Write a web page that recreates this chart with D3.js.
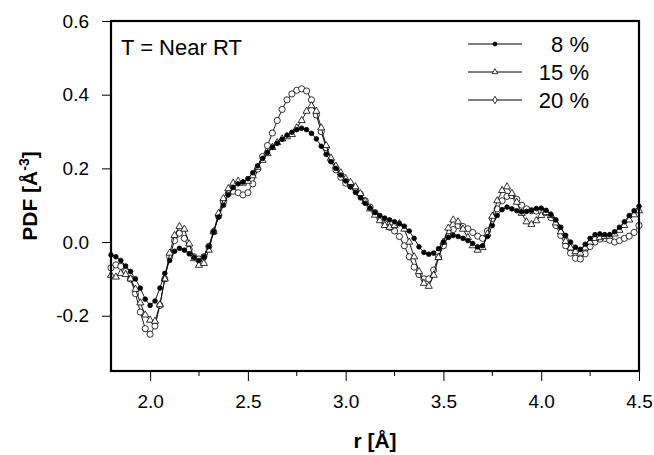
<!DOCTYPE html>
<html>
<head>
<meta charset="utf-8">
<script src="https://cdn.jsdelivr.net/npm/d3@7"></script>
<style>
  body { margin: 0; background: #fff; }
  text { font-family: "Liberation Sans", Arial, sans-serif; fill: #000; }
</style>
</head>
<body>
<div id="container"></div>
<script>
const width = 654;
const height = 455;

// r grid of the measurement (Å)
const rStart = 1.8;
const rStep = 0.025;

// PDF values, one per r step
const pct8 = [
  -0.035, -0.04, -0.05, -0.065,
  -0.08, -0.1, -0.125, -0.155,
  -0.172, -0.16, -0.125, -0.085,
  -0.05, -0.025, -0.017, -0.022,
  -0.032, -0.042, -0.05, -0.04,
  -0.012, 0.028, 0.068, 0.1,
  0.128, 0.148, 0.158, 0.163,
  0.172, 0.188, 0.207, 0.227,
  0.243, 0.257, 0.268, 0.279,
  0.29, 0.298, 0.305, 0.309,
  0.305, 0.295, 0.28, 0.26,
  0.238, 0.218, 0.2, 0.182,
  0.166, 0.15, 0.135, 0.12,
  0.105, 0.092, 0.08, 0.072,
  0.065, 0.06, 0.055, 0.05,
  0.043, 0.03, 0.01, -0.013,
  -0.028, -0.033, -0.03, -0.018,
  0.0, 0.013, 0.018, 0.015,
  0.01, 0.004, -0.004, -0.013,
  -0.01, 0.015, 0.045, 0.072,
  0.088, 0.095, 0.09, 0.085,
  0.082, 0.083, 0.086, 0.091,
  0.092, 0.086, 0.075, 0.06,
  0.04, 0.018, 0.0, -0.014,
  -0.02, -0.006, 0.01, 0.02,
  0.022, 0.02, 0.02, 0.028,
  0.04, 0.055, 0.072, 0.085,
  0.097
];

const pct15 = [
  -0.09, -0.095, -0.085, -0.088,
  -0.1, -0.128, -0.165, -0.198,
  -0.212, -0.215, -0.17, -0.1,
  -0.03, 0.018, 0.042, 0.035,
  -0.005, -0.045, -0.063, -0.058,
  -0.022, 0.028, 0.078, 0.118,
  0.145, 0.16, 0.165, 0.16,
  0.165, 0.18, 0.203, 0.222,
  0.24, 0.257, 0.27, 0.28,
  0.286, 0.292, 0.31, 0.33,
  0.355, 0.37, 0.355, 0.31,
  0.262, 0.228, 0.206, 0.188,
  0.172, 0.162, 0.15, 0.132,
  0.11, 0.09, 0.073, 0.058,
  0.045, 0.04, 0.045, 0.05,
  0.035, 0.0, -0.04, -0.08,
  -0.112, -0.12, -0.09, -0.042,
  0.0, 0.038, 0.06, 0.055,
  0.035, 0.012, -0.01, -0.022,
  -0.015, 0.022, 0.07, 0.112,
  0.14, 0.15, 0.132, 0.108,
  0.078, 0.055, 0.048, 0.058,
  0.072, 0.08, 0.072, 0.052,
  0.028, 0.002, -0.016, -0.026,
  -0.03, -0.016, 0.0, 0.01,
  0.012, 0.015, 0.016, 0.022,
  0.032, 0.045, 0.06, 0.074,
  0.085
];

const pct20 = [
  -0.07, -0.062, -0.066, -0.08,
  -0.1, -0.14, -0.19, -0.235,
  -0.25, -0.228, -0.172, -0.1,
  -0.04, 0.004, 0.024, 0.01,
  -0.02, -0.04, -0.046, -0.04,
  -0.012, 0.028, 0.07, 0.108,
  0.132, 0.138, 0.134, 0.128,
  0.134, 0.158, 0.198, 0.232,
  0.262, 0.296, 0.33, 0.36,
  0.386, 0.402, 0.412, 0.416,
  0.41, 0.386, 0.345, 0.3,
  0.256, 0.222, 0.196, 0.176,
  0.16, 0.152, 0.145, 0.13,
  0.112, 0.095, 0.08, 0.064,
  0.05, 0.04, 0.03, 0.015,
  -0.01, -0.04, -0.068, -0.088,
  -0.1, -0.1, -0.076, -0.04,
  -0.01, 0.015, 0.034, 0.045,
  0.042, 0.036, 0.026, 0.016,
  0.01, 0.03, 0.064, 0.09,
  0.112, 0.124, 0.126, 0.116,
  0.1, 0.09, 0.085, 0.084,
  0.085, 0.08, 0.066, 0.045,
  0.018, -0.01, -0.03, -0.044,
  -0.046, -0.032, -0.012, 0.0,
  0.008, 0.01, 0.005, 0.0,
  0.004, 0.01, 0.016, 0.026,
  0.045
];

const seriesLabels = ["8 %", "15 %", "20 %"];
const xTicks = [2.0, 2.5, 3.0, 3.5, 4.0, 4.5];
const xMinorTicks = [2.25, 2.75, 3.25, 3.75, 4.25];
const yTicks = [-0.2, 0.0, 0.2, 0.4, 0.6];

const plot = { left: 111, right: 639, top: 21, bottom: 371 };

const x = d3.scaleLinear().domain([1.8, 4.5]).range([plot.left, plot.right]);
const y = d3.scaleLinear().domain([-0.35, 0.6]).range([plot.bottom, plot.top]);

// plain hyphen for negatives, like the original
const fmt = d => d.toFixed(1);

const svg = d3.select("#container")
  .append("svg")
  .attr("width", width)
  .attr("height", height);

// axes
const xAxis = svg.append("g")
  .attr("transform", `translate(0, ${plot.bottom})`)
  .call(d3.axisBottom(x).tickValues(xTicks).tickFormat(fmt).tickSize(10).tickPadding(14));
xAxis.append("g")
  .selectAll("line")
  .data(xMinorTicks)
  .enter()
  .append("line")
  .attr("x1", d => x(d)).attr("x2", d => x(d))
  .attr("y1", 0).attr("y2", 5)
  .attr("stroke", "#000");

const yAxis = svg.append("g")
  .attr("transform", `translate(${plot.left}, 0)`)
  .call(d3.axisLeft(y).tickValues(yTicks).tickFormat(fmt).tickSize(9).tickPadding(13));

svg.selectAll(".domain").remove();
svg.selectAll(".tick text")
  .style("font-family", "'Liberation Sans', Arial, sans-serif")
  .style("font-size", "19px")
  .attr("fill", "#000");
svg.selectAll(".tick line").attr("stroke", "#000");

// series
const series = [
  { label: seriesLabels[2], values: pct20, symbol: d3.symbolCircle, size: 30, fill: "#fff" },
  { label: seriesLabels[1], values: pct15, symbol: d3.symbolTriangle, size: 22, fill: "#fff" },
  { label: seriesLabels[0], values: pct8, symbol: d3.symbolCircle, size: 17, fill: "#000" }
];

const line = d3.line()
  .x((d, i) => x(rStart + i * rStep))
  .y(d => y(d));

series.forEach(s => {
  const g = svg.append("g");
  g.append("path")
    .attr("d", line(s.values))
    .attr("fill", "none")
    .attr("stroke", "#000")
    .attr("stroke-width", 0.9);
  g.selectAll("path.pt")
    .data(s.values)
    .enter()
    .append("path")
    .attr("class", "pt")
    .attr("transform", (d, i) => `translate(${x(rStart + i * rStep)}, ${y(d)})`)
    .attr("d", d3.symbol().type(s.symbol).size(s.size))
    .attr("fill", s.fill)
    .attr("stroke", "#000")
    .attr("stroke-width", 0.8);
});

// frame
svg.append("rect")
  .attr("x", plot.left)
  .attr("y", plot.top)
  .attr("width", plot.right - plot.left)
  .attr("height", plot.bottom - plot.top)
  .attr("fill", "none")
  .attr("stroke", "#000")
  .attr("stroke-width", 2.2);

// annotation
svg.append("text")
  .attr("x", 121)
  .attr("y", 55)
  .style("font-size", "22px")
  .text("T = Near RT");

// legend
const legendRows = [
  { label: seriesLabels[0], symbol: d3.symbolCircle, size: 12, fill: "#000", y: 44 },
  { label: seriesLabels[1], symbol: d3.symbolTriangle, size: 14, fill: "#fff", y: 72 },
  { label: seriesLabels[2], symbol: d3.symbolDiamond, size: 16, fill: "#fff", y: 100 }
];
const legend = svg.append("g");
legendRows.forEach(row => {
  legend.append("line")
    .attr("x1", 468).attr("x2", 522)
    .attr("y1", row.y).attr("y2", row.y)
    .attr("stroke", "#000")
    .attr("stroke-width", 1);
  legend.append("path")
    .attr("transform", `translate(495, ${row.y})`)
    .attr("d", d3.symbol().type(row.symbol).size(row.size))
    .attr("fill", row.fill)
    .attr("stroke", "#000")
    .attr("stroke-width", 0.8);
  legend.append("text")
    .attr("x", 589)
    .attr("y", row.y + 8)
    .attr("text-anchor", "end")
    .style("font-size", "22px")
    .text(row.label);
});

// axis titles
svg.append("text")
  .attr("x", (plot.left + plot.right) / 2)
  .attr("y", 448)
  .attr("text-anchor", "middle")
  .style("font-size", "21px")
  .style("font-weight", "bold")
  .text("r [Å]");

const yTitle = svg.append("text")
  .attr("transform", `translate(37, ${(plot.top + plot.bottom) / 2}) rotate(-90)`)
  .attr("text-anchor", "middle")
  .style("font-size", "21px")
  .style("font-weight", "bold");
yTitle.append("tspan").text("PDF [Å");
yTitle.append("tspan").attr("dy", -8).style("font-size", "14px").text("-3");
yTitle.append("tspan").attr("dy", 8).text("]");
</script>
</body>
</html>
